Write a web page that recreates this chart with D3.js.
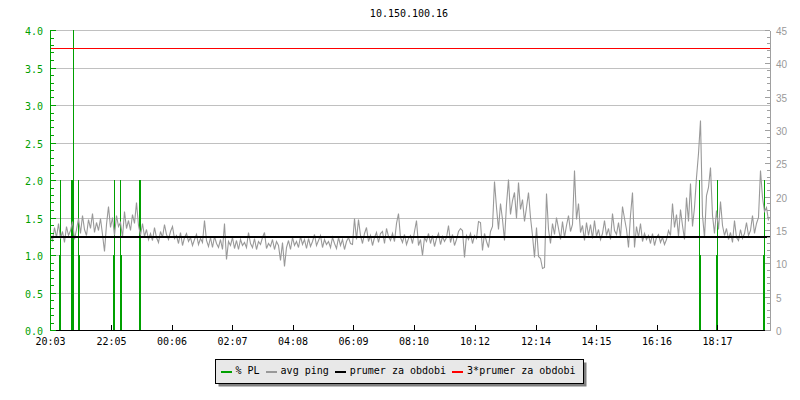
<!DOCTYPE html>
<html><head><meta charset="utf-8">
<script src="https://cdn.jsdelivr.net/npm/d3@7"></script>
<style>
body{margin:0;background:#fff}
svg text{font-family:"DejaVu Sans Mono",monospace;font-size:10px}
</style></head><body>
<svg id="c" width="800" height="400"></svg>
<script>
// ---------- data ----------
const title = "10.150.100.16";
const spanMinutes = 1440;               // 24 h shown, start 20:03
const startLabel = "20:03";
const timeLabels = ["20:03","22:05","00:06","02:07","04:08","06:09","08:10","10:12","12:14","14:15","16:16","18:17"];
const leftMajor = [0,0.5,1.0,1.5,2.0,2.5,3.0,3.5,4.0];
const leftMinor = [0.1,0.2,0.3,0.4,0.6,0.7,0.8,0.9,1.1,1.2,1.3,1.4,1.6,1.7,1.8,1.9,2.1,2.2,2.3,2.4,2.6,2.7,2.8,2.9,3.1,3.2,3.3,3.4,3.6,3.7,3.8,3.9];
const rightMajor = [0,5,10,15,20,25,30,35,40,45];
const rightMinor = [1,2,3,4,6,7,8,9,11,12,13,14,16,17,18,19,21,22,23,24,26,27,28,29,31,32,33,34,36,37,38,39,41,42,43,44];
const legendLabels = ["% PL","avg ping","prumer za obdobi","3*prumer za obdobi"];
const legendColors = ["#00a000","#999999","#000000","#ff0000"];

// % packet loss (left axis): minute offset from start, value
const plMinutes = [18,20,42,44,46,56,58,126,128,140,142,178,180,1298,1300,1332,1334,1426,1428];
const plValues  = [1,2,2,2,5,2,1,1,2,2,1,2,2,2,1,1,2,1,2];

// average ping in ms (right axis), one sample every 4 minutes
const pingStep = 4;
const pingMs = [
14.2,13.5,15.4,14.0,16.1,13.8,14.9,13.2,15.6,14.3,
15.0,16.3,13.6,15.2,16.8,14.5,17.3,15.1,14.2,16.6,
15.3,17.6,14.7,16.2,15.0,16.8,14.4,11.8,15.9,18.6,
15.4,16.9,14.2,17.3,15.6,16.2,13.9,17.8,15.3,16.5,
15.0,17.4,16.1,19.2,15.7,14.3,16.0,14.1,15.2,13.7,
14.6,13.5,15.4,14.0,13.2,14.8,13.9,15.9,14.4,13.6,
14.9,15.6,13.8,14.2,13.1,14.7,12.8,13.9,14.5,13.3,
14.0,12.7,13.6,14.4,12.9,13.8,13.2,16.5,13.5,12.6,
13.9,12.4,14.1,13.0,12.5,13.7,12.2,16.0,10.7,13.4,
12.8,13.9,12.3,13.5,12.1,13.6,12.7,13.2,12.4,14.7,
13.1,12.5,13.8,12.2,13.4,12.9,14.0,14.7,12.3,13.0,
12.6,13.7,12.1,13.3,12.8,10.5,13.2,9.6,12.4,13.5,
12.2,13.9,12.7,13.4,12.5,14.1,12.9,13.6,12.3,13.8,
12.6,13.3,14.4,12.8,13.5,14.3,12.4,13.7,12.9,13.4,
12.5,13.9,13.1,12.3,14.0,12.8,13.6,12.2,13.3,13.9,
13.0,12.9,16.8,13.6,16.7,14.2,13.1,14.6,15.5,13.4,
14.3,12.8,13.9,14.7,13.2,14.5,14.9,13.0,15.3,14.1,
13.5,14.6,13.3,16.0,17.6,14.0,13.2,14.4,12.9,13.8,
14.2,13.1,14.8,16.5,12.7,13.6,11.3,14.0,13.3,14.5,
13.0,14.2,12.6,13.8,14.5,12.9,14.1,13.4,13.9,15.8,
13.2,14.4,12.8,13.7,14.9,15.3,15.0,11.0,14.2,13.6,
14.6,13.1,14.3,13.8,16.4,16.2,12.0,14.5,13.4,12.4,
14.8,15.6,22.3,18.5,15.2,19.1,16.7,13.5,18.9,22.6,
17.4,19.5,20.7,16.8,22.2,18.1,19.7,16.3,18.5,20.7,
17.0,14.2,11.0,15.5,11.1,10.8,9.3,9.4,20.6,15.2,
13.0,16.1,14.4,17.0,15.3,13.6,16.4,14.0,15.7,17.2,
14.8,15.9,24.0,16.6,19.1,14.7,15.8,13.5,16.2,14.3,
15.9,13.8,16.5,14.1,15.2,13.6,14.5,16.5,14.2,15.3,
13.7,17.6,15.0,14.4,16.2,13.9,18.6,16.8,15.1,12.5,
17.3,20.7,12.5,15.6,14.0,16.1,13.3,14.5,13.6,14.2,
13.1,14.6,12.8,13.9,14.4,13.2,14.0,12.9,13.7,15.0,
14.2,19.1,15.5,17.4,14.1,18.2,15.8,13.7,20.0,16.3,
22.0,15.6,18.4,23.0,26.5,31.5,17.2,14.0,20.2,21.5,
24.5,17.2,14.6,18.0,15.1,19.3,15.8,14.2,15.3,13.6,
14.7,13.2,16.5,14.0,13.5,15.1,13.8,14.6,16.2,14.3,
15.0,17.2,14.6,16.1,17.0,24.0,20.0,17.8,18.5,16.5
];
const prumer = 14.1;        // period average, ms
const prumerFactor = 3;     // 3*prumer line

// ---------- chart ----------
const svg = d3.select("#c");
const x = d3.scaleLinear().domain([0, spanMinutes]).range([50, 770]);
const yL = d3.scaleLinear().domain([0, 4]).range([330, 30]).interpolate(d3.interpolateRound);
const yR = d3.scaleLinear().domain([0, 45]).range([330, 30]).interpolate(d3.interpolateRound);

const toMin = s => { const [h, m] = s.split(":").map(Number); return h * 60 + m; };
const tickMins = timeLabels.map(s => ((toMin(s) - toMin(startLabel)) % 1440 + 1440) % 1440);

// title
svg.append("text").attr("x", 409).attr("y", 17).attr("text-anchor", "middle").attr("fill", "#000").text(title);

// horizontal grid
svg.append("g").selectAll("line").data(leftMajor.filter(d => d > 0)).join("line")
  .attr("x1", 50).attr("x2", 770)
  .attr("y1", d => yL(d) + 0.5).attr("y2", d => yL(d) + 0.5)
  .attr("stroke", "#c0c0c0").attr("shape-rendering", "crispEdges");

// packet loss bars
const plData = plMinutes.map((m, i) => ({ m, v: plValues[i] }));
svg.append("g").selectAll("rect").data(plData).join("rect")
  .attr("x", d => x(d.m)).attr("width", d => x(d.m + 2) - x(d.m))
  .attr("y", d => yL(Math.min(d.v, 4))).attr("height", d => yL(0) - yL(Math.min(d.v, 4)))
  .attr("fill", legendColors[0]).attr("shape-rendering", "crispEdges");

// ping line
const line = d3.line().x((d, i) => x(i * pingStep)).y(d => yR(d));
svg.append("path").datum(pingMs).attr("d", line)
  .attr("transform", "translate(0.5,0.5)")
  .attr("fill", "none").attr("stroke", legendColors[1]).attr("stroke-width", 1.1);

// average lines
svg.append("line").attr("x1", 50).attr("x2", 770)
  .attr("y1", yR(prumer) + 1).attr("y2", yR(prumer) + 1)
  .attr("stroke", legendColors[2]).attr("stroke-width", 2).attr("shape-rendering", "crispEdges");
svg.append("line").attr("x1", 50).attr("x2", 770)
  .attr("y1", yR(prumer * prumerFactor) + 0.5).attr("y2", yR(prumer * prumerFactor) + 0.5)
  .attr("stroke", legendColors[3]).attr("stroke-width", 1).attr("shape-rendering", "crispEdges");

// x axis
const gx = svg.append("g").attr("transform", "translate(0,330)")
  .call(d3.axisBottom(x).tickValues(tickMins).tickFormat((d, i) => timeLabels[i])
    .tickSize(-5).tickSizeOuter(0).tickPadding(8));
gx.selectAll("path,line").attr("stroke", "#000").attr("shape-rendering", "crispEdges");
gx.selectAll("text").attr("fill", "#000").style("font-family", "'DejaVu Sans Mono',monospace").style("font-size", "10px");

// left axis
const gLmin = svg.append("g").attr("transform", "translate(50,0)")
  .call(d3.axisLeft(yL).tickValues(leftMinor).tickFormat("").tickSize(-4).tickSizeOuter(0));
gLmin.select(".domain").remove();
gLmin.selectAll("line").attr("stroke", "#00a000").attr("shape-rendering", "crispEdges");
const gL = svg.append("g").attr("transform", "translate(50,0)")
  .call(d3.axisLeft(yL).tickValues(leftMajor).tickFormat(d3.format(".1f"))
    .tickSize(-6).tickSizeOuter(0).tickPadding(7));
gL.selectAll("path,line").attr("stroke", "#00a000").attr("shape-rendering", "crispEdges");
gL.selectAll("text").attr("fill", "#00a000").attr("dy", "0.45em")
  .style("font-family", "'DejaVu Sans Mono',monospace").style("font-size", "10px");

// right axis
const gRmin = svg.append("g").attr("transform", "translate(770,0)")
  .call(d3.axisRight(yR).tickValues(rightMinor).tickFormat("").tickSize(-3).tickSizeOuter(0));
gRmin.select(".domain").remove();
gRmin.selectAll("line").attr("stroke", "#a0a0a0").attr("shape-rendering", "crispEdges");
const gR = svg.append("g").attr("transform", "translate(770,0)")
  .call(d3.axisRight(yR).tickValues(rightMajor).tickFormat(d3.format("d"))
    .tickSize(-5).tickSizeOuter(0).tickPadding(6));
gR.selectAll("path,line").attr("stroke", "#a0a0a0").attr("shape-rendering", "crispEdges");
gR.selectAll("text").attr("fill", "#999").attr("dy", "0.45em")
  .style("font-family", "'Liberation Sans',Arial,sans-serif").style("font-size", "10px");

// legend
const lg = svg.append("g");
const shadow = lg.append("rect").attr("fill", "#808080");
const box = lg.append("rect").attr("fill", "#e8e8e8").attr("stroke", "#000").attr("shape-rendering", "crispEdges");
const items = lg.append("g");
let cx = 0;
legendLabels.forEach((lab, i) => {
  items.append("line").attr("x1", cx).attr("x2", cx + 11).attr("y1", 0).attr("y2", 0)
    .attr("stroke", legendColors[i]).attr("stroke-width", 2).attr("shape-rendering", "crispEdges");
  const t = items.append("text").attr("x", cx + 15).attr("y", 1.5).attr("fill", "#000").text(lab);
  cx += 15 + t.node().getComputedTextLength() + 6;
});
const contentW = cx - 6;
const bw = contentW + 5 + 8, by = 359.5, bh = 24;
const bxc = Math.round(399 - bw / 2) + 0.5;
items.attr("transform", `translate(${bxc + 5},${372})`);
box.attr("x", bxc).attr("y", by).attr("width", Math.round(bw)).attr("height", bh);
shadow.attr("x", bxc + 3).attr("y", by + 3).attr("width", Math.round(bw)).attr("height", bh);
</script>
</body></html>
